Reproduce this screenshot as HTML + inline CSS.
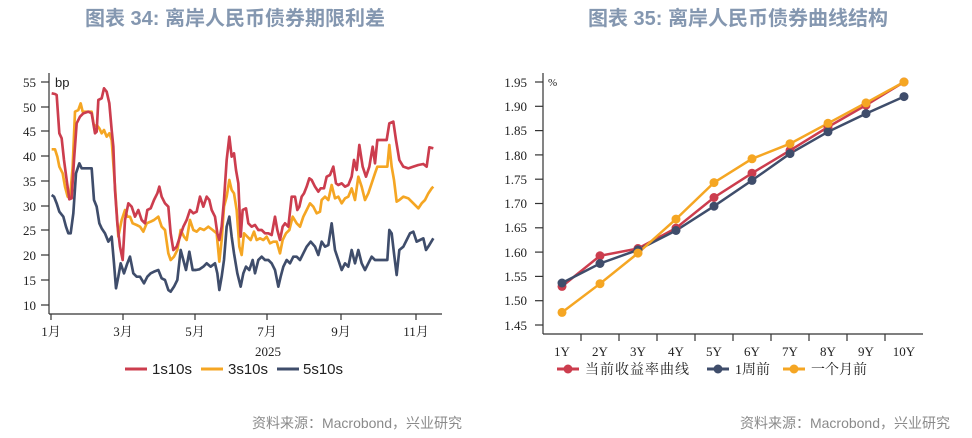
<!DOCTYPE html>
<html><head><meta charset="utf-8"><style>
body{margin:0;width:972px;height:438px;background:#fff;overflow:hidden}
svg{display:block}
.t{font-family:"Liberation Serif","Noto Serif CJK SC",serif;font-size:13px;fill:#222}
.h{font-family:"Liberation Sans","Noto Sans CJK SC",sans-serif;font-size:20px;font-weight:bold;fill:#8497b0}
.s{font-family:"Liberation Sans","Noto Sans CJK SC",sans-serif;font-size:14px;fill:#8a8a8a}
</style></head><body>
<svg width="972" height="438" viewBox="0 0 972 438">
<text class="h" x="235" y="25" text-anchor="middle">图表 34: 离岸人民币债券期限利差</text>
<text class="h" x="738" y="25" text-anchor="middle">图表 35: 离岸人民币债券曲线结构</text>
<text class="s" x="462" y="428" text-anchor="end">资料来源：Macrobond，兴业研究</text>
<text class="s" x="950" y="428" text-anchor="end">资料来源：Macrobond，兴业研究</text>

<!-- left chart axes -->
<g stroke="#333" stroke-width="1.2" fill="none">
<line x1="49" y1="73" x2="49" y2="314"/>
<line x1="49" y1="314" x2="442" y2="314"/>
<line x1="41" y1="82" x2="49" y2="82"/><line x1="41" y1="107" x2="49" y2="107"/><line x1="41" y1="131" x2="49" y2="131"/><line x1="41" y1="156" x2="49" y2="156"/><line x1="41" y1="181" x2="49" y2="181"/><line x1="41" y1="206" x2="49" y2="206"/><line x1="41" y1="230" x2="49" y2="230"/><line x1="41" y1="255" x2="49" y2="255"/><line x1="41" y1="280" x2="49" y2="280"/><line x1="41" y1="305" x2="49" y2="305"/>
<line x1="51" y1="314" x2="51" y2="320"/><line x1="123" y1="314" x2="123" y2="320"/><line x1="195" y1="314" x2="195" y2="320"/><line x1="267" y1="314" x2="267" y2="320"/><line x1="341" y1="314" x2="341" y2="320"/><line x1="416" y1="314" x2="416" y2="320"/>
</g>
<g class="t">
<text x="36" y="87" text-anchor="end">55</text><text x="36" y="112" text-anchor="end">50</text><text x="36" y="136" text-anchor="end">45</text><text x="36" y="161" text-anchor="end">40</text><text x="36" y="186" text-anchor="end">35</text><text x="36" y="211" text-anchor="end">30</text><text x="36" y="235" text-anchor="end">25</text><text x="36" y="260" text-anchor="end">20</text><text x="36" y="285" text-anchor="end">15</text><text x="36" y="310" text-anchor="end">10</text>
<text x="55" y="87" style="font-family:'Liberation Sans',sans-serif">bp</text>
<text x="51" y="336" text-anchor="middle">1月</text><text x="123" y="336" text-anchor="middle">3月</text><text x="195" y="336" text-anchor="middle">5月</text><text x="267" y="336" text-anchor="middle">7月</text><text x="341" y="336" text-anchor="middle">9月</text><text x="416" y="336" text-anchor="middle">11月</text>
<text x="268" y="356" text-anchor="middle">2025</text>
</g>
<g transform="translate(0,60) scale(0.33333)" fill="none" stroke-width="8" stroke-linejoin="round">
<polyline stroke="#3f4d6b" points="155,405 162,410 170,430 178,455 190,470 198,500 205,520 212,520 220,460 228,340 238,310 245,325 260,325 275,325 282,420 290,440 298,490 305,505 315,520 325,545 335,530 342,610 348,685 355,650 362,610 372,640 382,610 390,590 400,640 410,650 420,650 432,670 442,650 452,640 462,635 475,630 485,655 495,660 505,690 512,695 522,680 532,660 542,570 550,600 558,630 568,575 578,630 588,630 598,628 610,620 620,610 632,620 645,610 652,640 658,690 665,650 672,600 680,500 688,470 695,530 702,580 712,640 722,680 730,640 738,620 748,630 758,600 765,640 775,600 785,590 795,600 805,600 815,610 825,630 835,680 842,650 850,620 860,600 870,610 880,590 890,590 900,600 910,580 920,560 932,545 945,560 955,585 965,545 975,560 985,555 995,490 1005,570 1015,600 1025,630 1035,610 1045,620 1055,570 1065,610 1075,570 1085,610 1095,630 1105,610 1115,590 1125,600 1135,600 1150,600 1162,600 1168,510 1175,520 1182,580 1190,645 1198,570 1210,560 1220,540 1230,520 1240,515 1250,545 1260,540 1270,535 1278,570 1288,555 1300,535"/>
<polyline stroke="#f5a623" points="155,268 165,268 172,290 178,320 188,340 195,380 203,410 210,415 218,320 225,155 235,150 242,130 248,155 255,155 275,155 282,200 290,195 298,205 305,220 312,210 320,230 328,220 335,240 345,380 355,530 365,480 375,450 382,470 390,470 398,490 410,495 420,500 430,515 440,490 452,485 462,480 475,470 485,500 495,510 505,580 512,600 522,590 532,570 542,510 552,530 560,540 570,480 580,510 590,515 600,505 612,510 625,500 638,510 650,520 658,605 665,540 672,440 680,410 688,360 695,390 702,400 710,450 718,560 725,585 732,520 742,530 752,540 762,515 770,540 780,535 790,540 800,530 810,550 820,545 830,545 840,580 848,540 858,520 868,510 878,470 890,490 900,500 910,470 920,450 930,430 940,440 950,460 960,455 965,420 975,410 985,420 995,375 1005,415 1015,410 1025,430 1035,415 1045,410 1055,385 1065,420 1075,350 1085,380 1095,420 1105,400 1115,370 1125,340 1132,320 1150,320 1162,320 1168,255 1175,320 1182,360 1190,425 1198,420 1210,410 1225,415 1240,430 1255,445 1265,430 1275,420 1285,400 1295,385 1300,380"/>
<polyline stroke="#cc3d4e" points="155,100 165,102 170,105 178,220 185,235 192,300 200,360 208,418 215,415 222,300 230,190 240,170 250,160 265,155 275,160 285,220 290,215 295,120 305,115 312,85 320,95 328,130 335,210 340,260 345,390 352,490 360,560 368,600 375,480 385,430 395,440 405,470 415,450 425,480 435,490 442,450 452,445 462,420 472,400 478,380 485,410 495,430 505,440 512,520 520,570 530,560 540,530 550,500 560,480 570,450 580,460 590,455 600,410 610,440 620,410 628,420 635,450 645,470 652,520 658,540 665,500 672,420 680,300 688,230 695,290 702,280 708,330 715,370 722,530 728,450 738,445 745,490 755,500 765,495 775,510 785,510 795,520 805,520 815,525 825,470 832,510 840,540 848,500 855,490 865,500 875,410 885,410 892,450 898,440 905,410 912,400 920,380 928,355 935,360 945,380 955,395 962,385 972,385 980,350 990,345 1000,320 1008,370 1015,375 1025,370 1035,380 1045,375 1055,350 1062,300 1070,330 1078,255 1088,320 1098,350 1108,320 1118,260 1125,310 1132,240 1145,240 1160,240 1168,190 1180,185 1188,240 1198,300 1210,320 1225,325 1240,320 1255,315 1270,312 1280,320 1288,262 1300,265"/>
</g>
<!-- left legend -->
<g stroke-width="3">
<line x1="125" y1="369" x2="147" y2="369" stroke="#cc3d4e"/>
<line x1="201" y1="369" x2="223" y2="369" stroke="#f5a623"/>
<line x1="277" y1="369" x2="299" y2="369" stroke="#3f4d6b"/>
</g>
<g style="font-family:'Liberation Sans',sans-serif;font-size:15px;fill:#222">
<text x="152" y="374">1s10s</text><text x="228" y="374">3s10s</text><text x="303" y="374">5s10s</text>
</g>

<!-- right chart -->
<g stroke="#333" stroke-width="1.2" fill="none">
<line x1="543" y1="73" x2="543" y2="334"/>
<line x1="543" y1="334" x2="923" y2="334"/>
<line x1="535" y1="82" x2="543" y2="82"/><line x1="535" y1="106.3" x2="543" y2="106.3"/><line x1="535" y1="130.6" x2="543" y2="130.6"/><line x1="535" y1="154.9" x2="543" y2="154.9"/><line x1="535" y1="179.2" x2="543" y2="179.2"/><line x1="535" y1="203.5" x2="543" y2="203.5"/><line x1="535" y1="227.8" x2="543" y2="227.8"/><line x1="535" y1="252.1" x2="543" y2="252.1"/><line x1="535" y1="276.4" x2="543" y2="276.4"/><line x1="535" y1="300.7" x2="543" y2="300.7"/><line x1="535" y1="325" x2="543" y2="325"/>
<line x1="581" y1="334" x2="581" y2="341"/><line x1="619" y1="334" x2="619" y2="341"/><line x1="657" y1="334" x2="657" y2="341"/><line x1="695" y1="334" x2="695" y2="341"/><line x1="733" y1="334" x2="733" y2="341"/><line x1="771" y1="334" x2="771" y2="341"/><line x1="809" y1="334" x2="809" y2="341"/><line x1="847" y1="334" x2="847" y2="341"/><line x1="885" y1="334" x2="885" y2="341"/>
</g>
<g class="t">
<text x="527" y="87" text-anchor="end">1.95</text><text x="527" y="111" text-anchor="end">1.90</text><text x="527" y="135" text-anchor="end">1.85</text><text x="527" y="160" text-anchor="end">1.80</text><text x="527" y="184" text-anchor="end">1.75</text><text x="527" y="208" text-anchor="end">1.70</text><text x="527" y="232" text-anchor="end">1.65</text><text x="527" y="257" text-anchor="end">1.60</text><text x="527" y="281" text-anchor="end">1.55</text><text x="527" y="305" text-anchor="end">1.50</text><text x="527" y="330" text-anchor="end">1.45</text>
<text x="548" y="86" style="font-size:11px">%</text>
<text x="562" y="356" text-anchor="middle">1Y</text><text x="600" y="356" text-anchor="middle">2Y</text><text x="638" y="356" text-anchor="middle">3Y</text><text x="676" y="356" text-anchor="middle">4Y</text><text x="714" y="356" text-anchor="middle">5Y</text><text x="752" y="356" text-anchor="middle">6Y</text><text x="790" y="356" text-anchor="middle">7Y</text><text x="828" y="356" text-anchor="middle">8Y</text><text x="866" y="356" text-anchor="middle">9Y</text><text x="904" y="356" text-anchor="middle">10Y</text>
</g>
<g stroke-width="2.5" fill="none">
<polyline stroke="#cc3d4e" points="562,286.4 600,255.8 638,248.5 676,228.1 714,197.5 752,173.2 790,150.4 828,127.0 866,105.2 904,82"/>
<polyline stroke="#3f4d6b" points="562,283.0 600,263.5 638,249.9 676,230.5 714,206.2 752,180.4 790,153.6 828,131.8 866,113.6 904,96.6"/>
<polyline stroke="#f5a623" points="562,312.4 600,283.7 638,253.1 676,219.1 714,182.6 752,158.8 790,143.7 828,123.3 866,102.9 904,82"/>
</g>
<g fill="#cc3d4e"><circle cx="562" cy="286.4" r="4.5"/><circle cx="600" cy="255.8" r="4.5"/><circle cx="638" cy="248.5" r="4.5"/><circle cx="676" cy="228.1" r="4.5"/><circle cx="714" cy="197.5" r="4.5"/><circle cx="752" cy="173.2" r="4.5"/><circle cx="790" cy="150.4" r="4.5"/><circle cx="828" cy="127.0" r="4.5"/><circle cx="866" cy="105.2" r="4.5"/><circle cx="904" cy="82" r="4.5"/></g>
<g fill="#3f4d6b"><circle cx="562" cy="283.0" r="4.5"/><circle cx="600" cy="263.5" r="4.5"/><circle cx="638" cy="249.9" r="4.5"/><circle cx="676" cy="230.5" r="4.5"/><circle cx="714" cy="206.2" r="4.5"/><circle cx="752" cy="180.4" r="4.5"/><circle cx="790" cy="153.6" r="4.5"/><circle cx="828" cy="131.8" r="4.5"/><circle cx="866" cy="113.6" r="4.5"/><circle cx="904" cy="96.6" r="4.5"/></g>
<g fill="#f5a623"><circle cx="562" cy="312.4" r="4.5"/><circle cx="600" cy="283.7" r="4.5"/><circle cx="638" cy="253.1" r="4.5"/><circle cx="676" cy="219.1" r="4.5"/><circle cx="714" cy="182.6" r="4.5"/><circle cx="752" cy="158.8" r="4.5"/><circle cx="790" cy="143.7" r="4.5"/><circle cx="828" cy="123.3" r="4.5"/><circle cx="866" cy="102.9" r="4.5"/><circle cx="904" cy="82" r="4.5"/></g>
<!-- right legend -->
<g stroke-width="3">
<line x1="557" y1="369" x2="579" y2="369" stroke="#cc3d4e"/><circle cx="568" cy="369" r="4.5" fill="#cc3d4e"/>
<line x1="707" y1="369" x2="729" y2="369" stroke="#3f4d6b"/><circle cx="718" cy="369" r="4.5" fill="#3f4d6b"/>
<line x1="783" y1="369" x2="805" y2="369" stroke="#f5a623"/><circle cx="794" cy="369" r="4.5" fill="#f5a623"/>
</g>
<g style="font-family:'Liberation Serif','Noto Serif CJK SC',serif;font-size:14px;fill:#222">
<text x="585" y="374" letter-spacing="1">当前收益率曲线</text><text x="735" y="374">1周前</text><text x="811" y="374">一个月前</text>
</g>
</svg>
</body></html>
